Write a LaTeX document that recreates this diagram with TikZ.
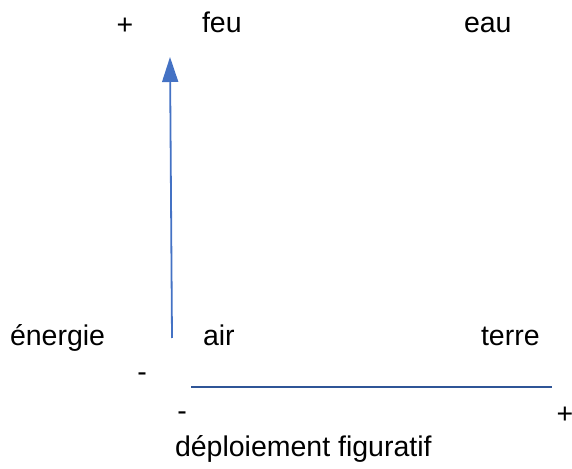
\documentclass[tikz,border=0pt]{standalone}
\usepackage{fontspec}
\setmainfont{Liberation Sans}
\usetikzlibrary{arrows.meta}
\definecolor{arrowblue}{RGB}{68,114,196}
\definecolor{lineblue}{RGB}{47,85,151}
\begin{document}
\begin{tikzpicture}[x=1pt,y=1pt,
  lbl/.style={inner sep=0pt,outer sep=0pt,anchor=base west,font=\fontsize{28.5}{34}\selectfont},
  sgn/.style={inner sep=0pt,outer sep=0pt,anchor=base,font=\fontsize{28.5}{34}\selectfont},
  axisarrow/.style={draw=arrowblue,line width=1.8pt,-{Triangle[length=25pt,width=16pt]}},
  axisline/.style={draw=lineblue,line width=2.6pt}]
\useasboundingbox (0,0) rectangle (572,468);
% top row
\node[sgn] (plustop) at (125,433) {+};
\node[lbl] (feu) at (202,435) {feu};
\node[lbl] (eau) at (464,435) {eau};
% middle row
\node[lbl] (energie) at (10,122) {énergie};
\node[lbl] (air) at (203,122) {air};
\node[lbl] (terre) at (481,122) {terre};
\node[sgn] (minusleft) at (142,86) {-};
% bottom
\node[sgn] (minusbottom) at (182,48) {-};
\node[sgn] (plusbottom) at (565,45) {+};
\node[lbl] (deploiement) at (175,12) {déploiement figuratif};
% axes
\coordinate (vstart) at (172,130);
\coordinate (vend) at (170,411);
\coordinate (hstart) at (191,81);
\coordinate (hend) at (552,81);
\draw[axisarrow] (vstart) -- (vend);
\draw[axisline] (hstart) -- (hend);
\end{tikzpicture}
\end{document}
